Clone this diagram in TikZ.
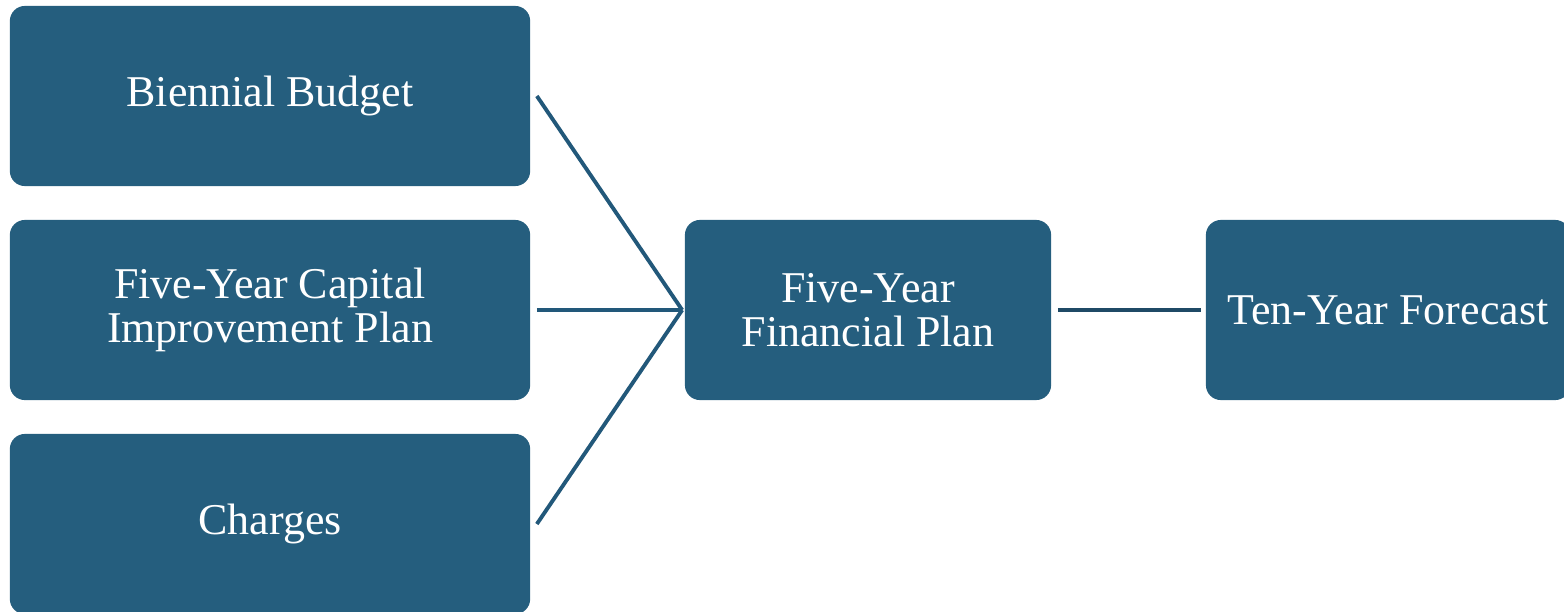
\documentclass[tikz,border=0pt]{standalone}
\usepackage{fontspec}
\setmainfont{Liberation Serif}
\usetikzlibrary{positioning}

\definecolor{boxblue}{HTML}{255E7E}
\definecolor{linkblue}{HTML}{22587A}
\definecolor{linkdark}{HTML}{1F4A66}

\tikzset{
  planbox/.style={rectangle,rounded corners=0.15cm,fill=boxblue,text=white,
    align=center,minimum height=1.8cm,inner sep=2pt,
    font=\fontsize{12.5}{12.6}\selectfont},
  link/.style={draw=linkblue,line width=1.1pt}
}

\begin{document}
\begin{tikzpicture}[x=0.01cm,y=0.01cm]
\useasboundingbox (0,0) rectangle (1564,611);
% ---------- inputs ----------
\node[planbox,minimum width=5.2cm] (budget) at (270,515) {Biennial Budget};
\node[planbox,minimum width=5.2cm] (cip) at (270,301) {Five-Year Capital\\Improvement Plan};
\node[planbox,minimum width=5.2cm] (charges) at (270,87) {Charges};
% ---------- plans ----------
\node[planbox,minimum width=3.66cm] (plan) at (868,301) {Five-Year\\Financial Plan};
\node[planbox,minimum width=3.64cm] (forecast) at (1388,301) {Ten-Year Forecast};
% ---------- links ----------
\coordinate (join) at ([xshift=-0.02cm]plan.west);
\draw[link] ([xshift=0.06cm]budget.east) -- (join);
\draw[link] ([xshift=0.06cm]cip.east) -- (join);
\draw[link] ([xshift=0.06cm]charges.east) -- (join);
\draw[link,draw=linkdark,line width=1.4pt] ([xshift=0.06cm]plan.east) -- ([xshift=-0.04cm]forecast.west);
\end{tikzpicture}
\end{document}
